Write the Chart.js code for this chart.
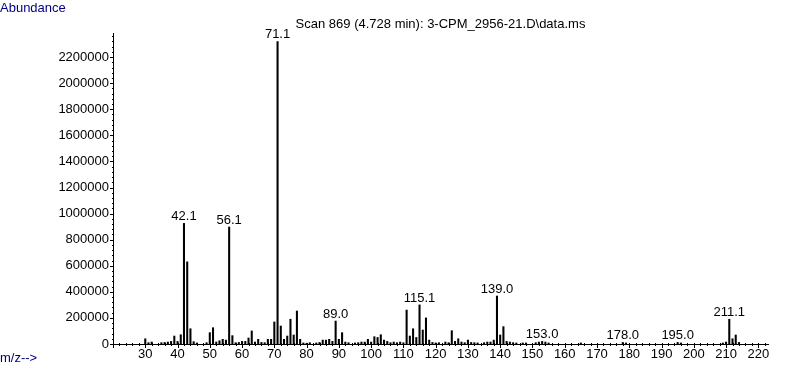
<!DOCTYPE html>
<html>
<head>
<meta charset="utf-8">
<script src="https://cdn.jsdelivr.net/npm/chart.js@4.4.1/dist/chart.umd.min.js"></script>
<style>
html,body{margin:0;padding:0;background:#fff;}
#wrap{width:787px;height:367px;position:relative;}
</style>
</head>
<body>
<div id="wrap"><canvas id="c" width="787" height="367"></canvas></div>
<script>
// m/z values and their abundances
const mz = [30,31,32,35,36,37,38,39,40,41,42,43,44,45,46,49,50,51,52,53,54,55,56,57,58,59,60,61,62,63,64,65,66,67,68,69,70,71,72,73,74,75,76,77,78,79,80,81,83,84,85,86,87,88,89,90,91,92,93,95,96,97,98,99,100,101,102,103,104,105,106,107,108,109,110,111,112,113,114,115,116,117,118,119,120,121,123,124,125,126,127,128,129,130,131,132,133,135,136,137,138,139,140,141,142,143,144,145,147,148,151,152,153,154,155,165,178,179,195,196,209,210,211,212,213,214];
const abundance = [40000,10000,15000,10000,12000,15000,20000,61000,20000,71000,925000,630000,117000,18000,8000,10000,87000,125000,15000,25000,36000,30000,897000,64000,10000,12000,20000,20000,46000,100000,15000,36000,12000,10000,36000,36000,169000,2320000,138000,36000,61000,190000,69000,253000,36000,8000,6000,10000,8000,12000,30000,30000,36000,20000,176000,36000,87000,15000,10000,8000,10000,15000,15000,36000,15000,56000,50000,71000,30000,20000,10000,15000,10000,15000,10000,260000,61000,117000,50000,300000,107000,200000,30000,12000,8000,10000,15000,10000,102000,20000,40000,15000,10000,30000,12000,10000,8000,10000,15000,15000,30000,368000,69000,133000,20000,15000,10000,8000,8000,8000,10000,15000,20000,15000,8000,8000,12000,8000,12000,8000,8000,15000,190000,40000,69000,12000];
// annotated peaks
const peakLabels = ["42.1","56.1","71.1","89.0","115.1","139.0","153.0","178.0","195.0","211.1"];
const peakMz = [42,56,71,89,115,139,153,178,195,211];
const titleText = "Scan 869 (4.728 min): 3-CPM_2956-21.D\\data.ms";
const yAxisTitle = "Abundance";
const xAxisTitle = "m/z-->";

const FONT = "Liberation Sans, Arial, sans-serif";
const FS = 13;

const points = mz.map((m,i)=>({x:m,y:abundance[i]}));

const decor = {
  id:'decor',
  afterDraw(chart){
    const ctx = chart.ctx;
    const xs = chart.scales.x, ys = chart.scales.y;
    const ca = chart.chartArea;
    ctx.save();
    ctx.strokeStyle = '#000';
    ctx.lineWidth = 1;
    // x ticks
    xs.ticks.forEach(t=>{
      const px = Math.round(xs.getPixelForValue(t.value))+0.5;
      const major = t.value % 10 === 0;
      ctx.beginPath();
      ctx.moveTo(px, ca.bottom-1);
      ctx.lineTo(px, ca.bottom + (major?4:2));
      ctx.stroke();
    });
    ys.ticks.forEach(t=>{
      const py = Math.round(ys.getPixelForValue(t.value))+0.5;
      const major = t.value % 200000 === 0;
      ctx.beginPath();
      ctx.moveTo(ca.left - (major?3:1), py);
      ctx.lineTo(ca.left+1, py);
      ctx.stroke();
    });
    // peak labels
    ctx.fillStyle = '#000';
    ctx.font = FS+'px '+FONT;
    ctx.textAlign = 'center';
    ctx.textBaseline = 'alphabetic';
    peakMz.forEach((m,i)=>{
      const idx = mz.indexOf(m);
      const px = xs.getPixelForValue(m);
      const py = ys.getPixelForValue(abundance[idx]);
      ctx.fillText(peakLabels[i], px, py-3);
    });
    // axis titles
    ctx.fillStyle = '#000080';
    ctx.textAlign = 'left';
    ctx.textBaseline = 'middle';
    ctx.fillText(yAxisTitle, 0, 8);
    ctx.fillText(xAxisTitle, 0, 358);
    ctx.restore();
  }
};

new Chart(document.getElementById('c'), {
  type:'bar',
  data:{datasets:[{data:points, backgroundColor:'#000', borderWidth:0, barThickness:1.4, grouped:false}]},
  options:{
    responsive:false, animation:false,
    layout:{padding:{left:0,right:19,top:0,bottom:0}},
    plugins:{
      legend:{display:false}, tooltip:{enabled:false},
      title:{display:true, text:titleText, color:'#000', fullSize:false,
        font:{family:FONT,size:FS,weight:'normal'}, padding:{top:17,bottom:0.4}}
    },
    scales:{
      x:{type:'linear', min:20, max:223, offset:false,
        afterBuildTicks(s){ const t=[]; for(let v=20; v<=222; v+=2) t.push({value:v}); s.ticks=t; },
        afterFit(s){ s.height = 23; },
        grid:{display:false, drawTicks:false, offset:false},
        border:{display:true,color:'#000',width:1},
        ticks:{autoSkip:false, maxRotation:0, padding:3, color:'#000', font:{family:FONT,size:FS},
          callback(v){ return (v%10===0 && v>=30) ? String(v) : ''; }}
      },
      y:{min:0, max:2385000,
        afterBuildTicks(s){ const t=[]; for(let v=0; v<=2360000; v+=40000) t.push({value:v}); s.ticks=t; },
        afterFit(s){ s.width = 113; },
        grid:{display:false, drawTicks:false},
        border:{display:true,color:'#000',width:1},
        ticks:{autoSkip:false, padding:4, color:'#000', font:{family:FONT,size:FS},
          callback(v){ return v%200000===0 ? String(v) : ''; }}
      }
    }
  },
  plugins:[decor]
});
</script>
</body>
</html>
